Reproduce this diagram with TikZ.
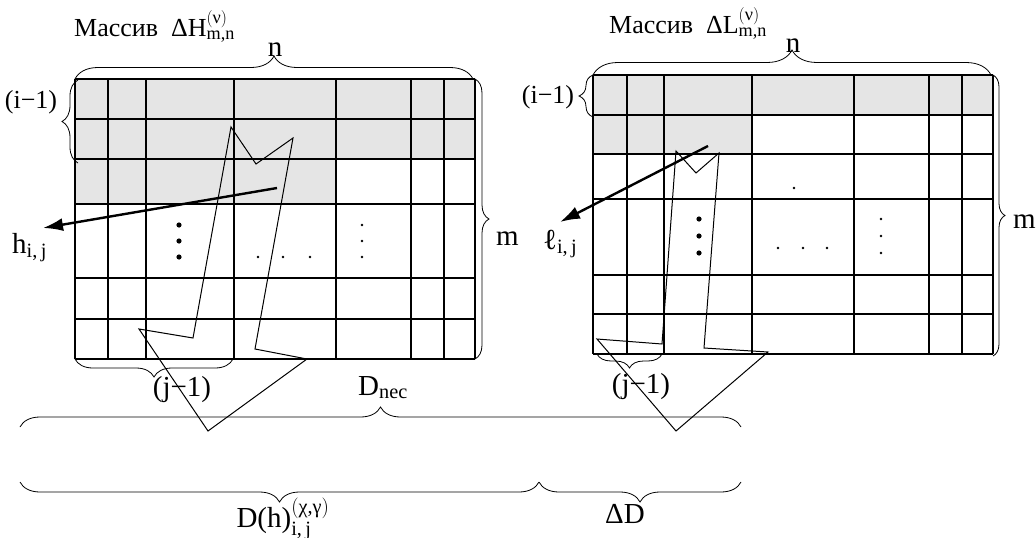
\documentclass[tikz,border=0pt]{standalone}
\usepackage{amsmath}
\usepackage{fontspec}
\setmainfont{Liberation Serif}
\usetikzlibrary{decorations.pathreplacing,arrows.meta}

\begin{document}
\begin{tikzpicture}[x=1pt,y=-1pt,font=\fontsize{29}{33}\selectfont,
  cell/.style={line width=1.5pt},
  shade/.style={fill=gray!20},
  brc/.style={decorate,decoration={brace,amplitude=#1},line width=.8pt},
  brc/.default=20pt,
  snake/.style={line width=1pt},
  ptr/.style={line width=2.4pt,-{Latex[length=20pt,width=13pt]}},
  lbl/.style={inner sep=0pt},
  ttl/.style={inner sep=0pt,anchor=base west,font=\fontsize{26}{30}\selectfont},
  small/.style={inner sep=0pt,font=\fontsize{26}{30}\selectfont}]
  \useasboundingbox (0,0) rectangle (1036,538);
  % массив H
  \fill[shade] (75,79) rectangle (475,159) (75,159) rectangle (336,204);
  \foreach \x in {75,108,146,234,336,411,444,475}
    \draw[cell] (\x,79) -- (\x,359);
  \foreach \y in {79,119,159,204,278,319,359}
    \draw[cell] (75,\y) -- (475,\y);
  % массив L
  \fill[shade] (593,75) rectangle (993,115) (593,115) rectangle (752,154);
  \foreach \x in {593,627,664,752,854,929,962,993}
    \draw[cell] (\x,75) -- (\x,354);
  \foreach \y in {75,115,154,199,275,314,354}
    \draw[cell] (593,\y) -- (993,\y);
  % dots
  \foreach \y in {225,241,257} {
    \fill (179,\y) circle (2.6pt);
    \fill (362,\y) circle (1.3pt);
  }
  \foreach \x in {258,283,310} \fill (\x,257) circle (1.3pt);
  \foreach \y in {219,236,253} {
    \fill (699,\y) circle (2.6pt);
    \fill (881,\y) circle (1.3pt);
  }
  \foreach \x in {778,803,827} \fill (\x,248) circle (1.3pt);
  \fill (794,188) circle (1.3pt);
  % snake paths
  \draw[snake] (231,127) -- (256,164) -- (293,138) -- (255,349) -- (307,359)
    -- (208,431) -- (139,329) -- (193,338) -- cycle;
  \draw[snake] (676,151) -- (696,173) -- (719,153) -- (704,348) -- (768,352)
    -- (676,431) -- (597,339) -- (662,344) -- cycle;
  % titles
  \node[ttl] (ttlH) at (74,36)
    {Массив\enspace$\text{ΔH}^{(\text{ν})}_{\text{m,n}}$};
  \node[ttl] (ttlL) at (609,33)
    {Массив\enspace$\text{ΔL}^{(\text{ν})}_{\text{m,n}}$};
  % braces
  \draw[brc=23pt] (75,79) -- (473,79);
  \node[lbl,anchor=base] (nH) at (275,56) {n};
  \draw[brc=25pt] (593,75) -- (991,75);
  \node[lbl,anchor=base] (nL) at (793,52) {n};
  \draw[brc=16pt] (78,163) -- (78,80);
  \node[small] (iH) at (31,102) {(i−1)};
  \draw[brc=14pt] (593,117) -- (593,75);
  \node[small] (iL) at (548,97) {(i−1)};
  \draw[brc=14pt] (475,79) -- (475,359);
  \node[lbl,anchor=base west] (mH) at (496,245) {m};
  \draw[brc=12pt] (993,75) -- (993,356);
  \node[lbl,anchor=base west] (mL) at (1013,228) {m};
  \draw[brc=18pt] (233,359) -- (75,359);
  \node[lbl] (jH) at (182,390) {(j−1)};
  \draw[brc=14pt] (662,354) -- (597,354);
  \node[lbl] (jL) at (641,387) {(j−1)};
  \draw[brc] (20,427) -- (741,427);
  \node[lbl,anchor=base west] (Dnec) at (358,395) {$\text{D}_{\text{nec}}$};
  \draw[brc] (539,482) -- (20,482);
  \node[lbl,anchor=base] (Dh) at (283,527) {$\text{D(h)}^{(\text{χ,γ})}_{\text{i,\,j}}$};
  \draw[brc] (741,482) -- (539,482);
  \node[lbl,anchor=base] (dD) at (625,523) {ΔD};
  % pointers
  \coordinate (hsrc) at (277,188);
  \coordinate (htip) at (43,228);
  \node[lbl,anchor=base west] (hlab) at (12,253) {$\text{h}_{\text{i,\,j}}$};
  \draw[ptr] (hsrc) -- (htip);
  \coordinate (lsrc) at (708,146);
  \coordinate (ltip) at (560,222);
  \node[lbl,anchor=base west] (llab) at (543,249) {$\text{ℓ}_{\text{i,\,j}}$};
  \draw[ptr] (lsrc) -- (ltip);
\end{tikzpicture}
\end{document}
